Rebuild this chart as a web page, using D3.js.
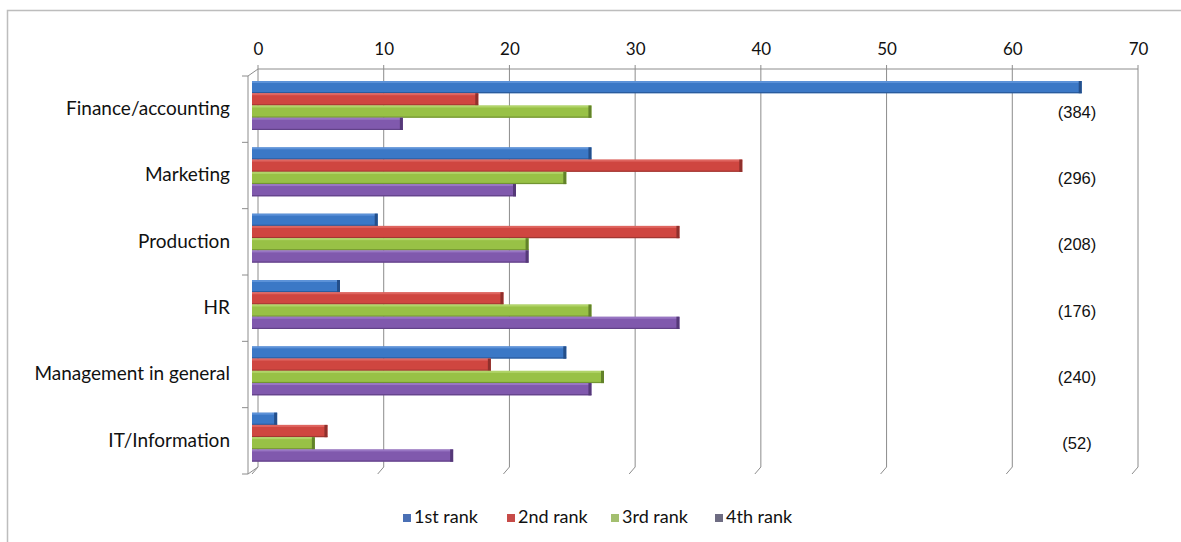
<!DOCTYPE html>
<html>
<head>
<meta charset="utf-8">
<script src="https://cdn.jsdelivr.net/npm/d3@7"></script>
<style>
  html, body { margin: 0; padding: 0; background: #fff; }
  svg { display: block; }
</style>
</head>
<body>
<svg id="chart" width="1181" height="542"></svg>
<script>
// Business functions, top to bottom
const categories = ["Finance/accounting", "Marketing", "Production", "HR", "Management in general", "IT/Information"];
// Share of respondents placing each function at a given rank
const rank1 = [66, 27, 10, 7, 25, 2];
const rank2 = [18, 39, 34, 20, 19, 6];
const rank3 = [27, 25, 22, 27, 28, 5];
const rank4 = [12, 21, 22, 34, 27, 16];
const seriesNames = ["1st rank", "2nd rank", "3rd rank", "4th rank"];
const counts = ["(384)", "(296)", "(208)", "(176)", "(240)", "(52)"];
const xTicks = [0, 10, 20, 30, 40, 50, 60, 70];

const series = [rank1, rank2, rank3, rank4];
const fills = ["#3b78c6", "#cf4640", "#98c146", "#8059ad"];
const dark = ["#244f8a", "#8f302c", "#62822a", "#553978"];
const light = ["#6b9ce0", "#e5726c", "#bcdb78", "#a283cc"];
const legendFills = ["#4a70b5", "#c74b48", "#a3bf6f", "#6e6c82"];

const svg = d3.select("#chart");
const font = "Lato, 'Open Sans', sans-serif";

// Chart frame
svg.append("rect").attr("x", 7.5).attr("y", 10.5).attr("width", 1190).attr("height", 540)
  .attr("fill", "#fff").attr("stroke", "#bdbdbd").attr("stroke-width", 1.5);

// 3D depth offset between the front plane and the back wall
const dx = 6, dy = -7;
const x = d3.scaleLinear().domain([0, 70]).range([252, 1132]);
const xBack = d3.scaleLinear().domain([0, 70]).range([252 + dx, 1132 + dx]);
const y = d3.scaleBand().domain(categories).range([76, 474]);
const yInner = d3.scaleBand().domain(d3.range(4)).range([5, 54]).paddingInner(0);

const wallTop = 76 + dy, wallBottom = 474 + dy;
const grid = svg.append("g").attr("stroke", "#8c8c8c").attr("stroke-width", 1).attr("fill", "none");
// back-wall top edge
grid.append("line").attr("x1", xBack(0)).attr("x2", xBack(70)).attr("y1", wallTop).attr("y2", wallTop);
// vertical gridlines with a slant down to the front plane
xTicks.forEach(t => {
  grid.append("path").attr("d",
    `M${xBack(t)},${wallTop - 4}L${xBack(t)},${wallBottom}L${x(t)},${wallBottom - dy}`);
});
// left side wall / category axis
grid.append("path").attr("d", `M${x(0) - 4},${76}L${xBack(0)},${wallTop}`);
grid.append("line").attr("x1", x(0) - 4).attr("x2", x(0) - 4).attr("y1", 76).attr("y2", 474);
grid.append("path").attr("d", `M${x(0) - 4},${474}L${xBack(0)},${wallBottom}`);
categories.concat([null]).forEach(c => {
  const yy = c ? y(c) : y.range()[1];
  grid.append("line").attr("x1", x(0) - 10).attr("x2", x(0) - 4).attr("y1", yy).attr("y2", yy);
});

// value axis labels along the top
const axis = svg.append("g").attr("transform", `translate(0,${wallTop - 14})`)
  .call(d3.axisTop(xBack).tickValues(xTicks).tickSize(0).tickPadding(0));
axis.select(".domain").remove();
axis.selectAll("text").attr("font-family", font).attr("font-size", 17).attr("fill", "#111");

// bars
const bars = svg.append("g");
categories.forEach((c, ci) => {
  series.forEach((s, si) => {
    const v = s[ci];
    const y0 = y(c) + yInner(si);
    const h = yInner.bandwidth();
    const w = x(v) - x(0);
    const g = bars.append("g");
    g.append("rect").attr("x", x(0)).attr("y", y0).attr("width", w).attr("height", h)
      .attr("fill", fills[si]);
    // highlight along the top face
    g.append("rect").attr("x", x(0)).attr("y", y0).attr("width", w).attr("height", 2)
      .attr("fill", light[si]).attr("opacity", 0.7);
    // darker lower edge
    g.append("rect").attr("x", x(0)).attr("y", y0 + h - 1.2).attr("width", w).attr("height", 1.2)
      .attr("fill", dark[si]).attr("opacity", 0.7);
    // shaded end cap
    g.append("rect").attr("x", x(v) - 3).attr("y", y0).attr("width", 3).attr("height", h)
      .attr("fill", dark[si]);
  });
});

// category labels
svg.append("g").selectAll("text").data(categories).join("text")
  .attr("x", 230).attr("y", d => y(d) + y.bandwidth() / 2 + 1)
  .attr("text-anchor", "end").attr("dominant-baseline", "middle")
  .attr("font-family", font).attr("font-size", 19).attr("fill", "#111")
  .text(d => d);

// respondent counts at the right
svg.append("g").selectAll("text").data(categories).join("text")
  .attr("x", 1077).attr("y", d => y(d) + y.bandwidth() / 2 + 4)
  .attr("text-anchor", "middle").attr("dominant-baseline", "middle")
  .attr("font-family", "'Liberation Sans', Arial, sans-serif").attr("font-size", 16.5).attr("fill", "#111")
  .text((d, i) => counts[i]);

// legend
const legX = [403, 507, 611, 715];
const leg = svg.append("g");
seriesNames.forEach((n, i) => {
  leg.append("rect").attr("x", legX[i]).attr("y", 514).attr("width", 8).attr("height", 8).attr("fill", legendFills[i]);
  leg.append("text").attr("x", legX[i] + 11).attr("y", 518).attr("dominant-baseline", "middle")
    .attr("font-family", font).attr("font-size", 18).attr("fill", "#111").text(n);
});
</script>
</body>
</html>
